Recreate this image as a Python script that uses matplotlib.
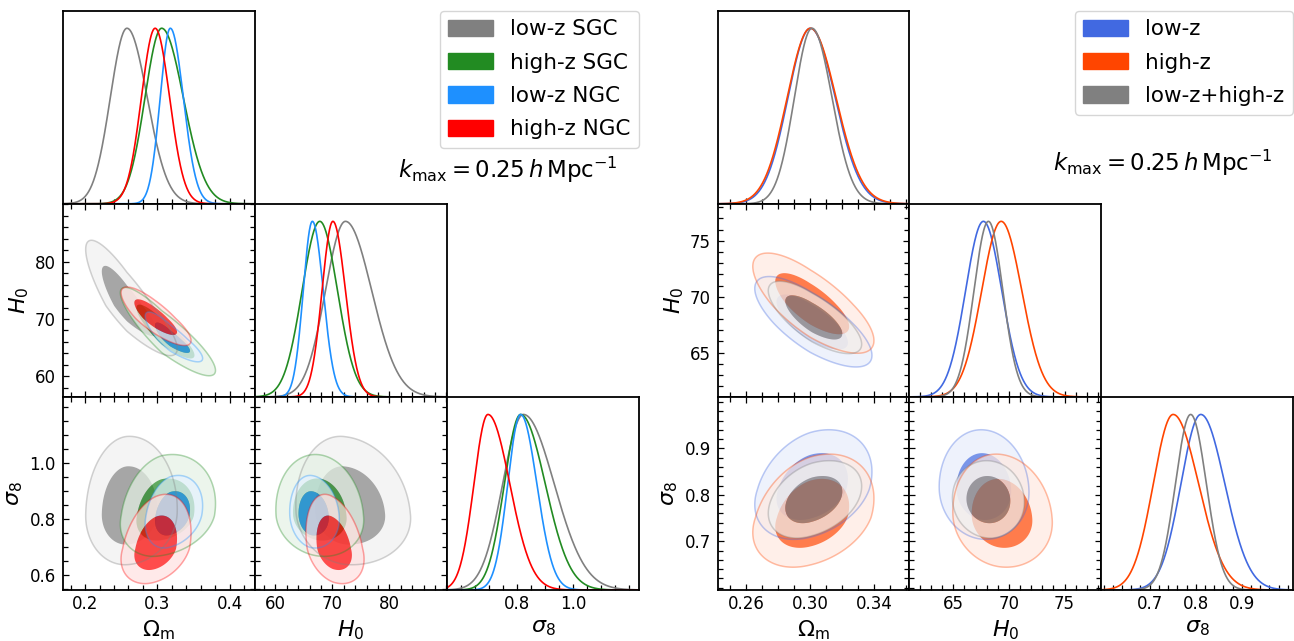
import numpy as np
import matplotlib
matplotlib.use("Agg")
import matplotlib.pyplot as plt
from matplotlib.ticker import FixedLocator, MultipleLocator, FixedFormatter, NullFormatter
from matplotlib.patches import Patch
from matplotlib.colors import to_rgb

W, H = 1294, 641
param_labels = [r'$\Omega_{\rm m}$', r'$H_0$', r'$\sigma_8$']

# ---------------- left triangle (SGC / NGC split) ----------------
L_names = ['low-z SGC', 'high-z SGC', 'low-z NGC', 'high-z NGC']
L_colors = ['grey', 'forestgreen', 'dodgerblue', 'red']
L_om_peak = [0.258, 0.306, 0.318, 0.297]
L_om_siglo = [0.023, 0.023, 0.014, 0.019]
L_om_sighi = [0.028, 0.030, 0.018, 0.020]
L_h0_peak = [72.3, 67.8, 66.5, 70.1]
L_h0_siglo = [3.5, 3.1, 1.6, 1.9]
L_h0_sighi = [4.6, 3.1, 1.9, 2.2]
L_s8_peak = [0.822, 0.812, 0.812, 0.695]
L_s8_siglo = [0.074, 0.058, 0.046, 0.050]
L_s8_sighi = [0.110, 0.088, 0.058, 0.078]
L_rho_om_h0 = [-0.86, -0.88, -0.85, -0.82]
L_rho_om_s8 = [0.05, 0.20, 0.25, 0.30]
L_rho_h0_s8 = [-0.10, -0.10, -0.10, -0.30]
L_lims = [(0.169, 0.435), (56.4, 90.1), (0.548, 1.236)]
L_xticks = [[0.2, 0.3, 0.4], [60, 70, 80], [0.8, 1.0]]
L_xticklabels = [['0.2', '0.3', '0.4'], ['60', '70', '80'], ['0.8', '1.0']]
L_yticks = [[], [60, 70, 80], [0.6, 0.8, 1.0]]
L_yticklabels = [[], ['60', '70', '80'], ['0.6', '0.8', '1.0']]
L_minor = [0.02, 2, 0.05]

# ---------------- right triangle (low-z / high-z) ----------------
R_names = ['low-z', 'high-z', 'low-z+high-z']
R_colors = ['royalblue', 'orangered', 'grey']
R_om_peak = [0.300, 0.300, 0.301]
R_om_siglo = [0.0140, 0.0145, 0.0110]
R_om_sighi = [0.0155, 0.0160, 0.0125]
R_h0_peak = [67.7, 69.3, 68.15]
R_h0_siglo = [1.60, 1.75, 1.30]
R_h0_sighi = [1.65, 1.85, 1.30]
R_s8_peak = [0.811, 0.751, 0.789]
R_s8_siglo = [0.043, 0.043, 0.033]
R_s8_sighi = [0.052, 0.055, 0.034]
R_rho_om_h0 = [-0.74, -0.74, -0.74]
R_rho_om_s8 = [0.30, 0.30, 0.35]
R_rho_h0_s8 = [-0.05, -0.10, -0.05]
R_lims = [(0.242, 0.362), (61.05, 78.3), (0.595, 1.011)]
R_xticks = [[0.26, 0.30, 0.34], [65, 70, 75], [0.7, 0.8, 0.9]]
R_xticklabels = [['0.26', '0.30', '0.34'], ['65', '70', '75'], ['0.7', '0.8', '0.9']]
R_yticks = [[], [65, 70, 75], [0.7, 0.8, 0.9]]
R_yticklabels = [[], ['65', '70', '75'], ['0.7', '0.8', '0.9']]
R_minor = [0.01, 1, 0.02]

kmax_text = r'$k_{\rm max} = 0.25\,h\,{\rm Mpc}^{-1}$'

fig = plt.figure(figsize=(W / 100, H / 100), dpi=100)

LEV68 = np.exp(-2.30 / 2)
LEV95 = np.exp(-6.18 / 2)


def std(x, mu, slo, shi):
    return np.where(x < mu, (x - mu) / slo, (x - mu) / shi)


def lighter(c, f=0.12):
    r = np.array(to_rgb(c))
    return tuple(f * r + (1 - f) * np.ones(3))


def style_axis(ax, kind, d_x, d_y, lims, xt, xtl, yt, ytl, minor, show_xlab, show_ylab):
    ax.set_xlim(*lims[d_x])
    ax.xaxis.set_major_locator(FixedLocator(xt[d_x]))
    ax.xaxis.set_minor_locator(MultipleLocator(minor[d_x]))
    if show_xlab:
        ax.xaxis.set_major_formatter(FixedFormatter(xtl[d_x]))
        ax.set_xlabel(param_labels[d_x], fontsize=16, labelpad=4)
    else:
        ax.xaxis.set_major_formatter(NullFormatter())
    if kind == '1d':
        ax.tick_params(axis='x', which='both', direction='in', top=False, bottom=True,
                       labelsize=12, width=0.9)
        ax.tick_params(axis='x', which='major', length=4.3)
        ax.tick_params(axis='x', which='minor', length=3.6)
        ax.set_yticks([])
        ax.set_ylim(0, 1.1)
    else:
        ax.set_ylim(*lims[d_y])
        ax.yaxis.set_major_locator(FixedLocator(yt[d_y]))
        ax.yaxis.set_minor_locator(MultipleLocator(minor[d_y]))
        if show_ylab:
            ax.yaxis.set_major_formatter(FixedFormatter(ytl[d_y]))
            ax.set_ylabel(param_labels[d_y], fontsize=16, labelpad=3)
        else:
            ax.yaxis.set_major_formatter(NullFormatter())
        ax.tick_params(axis='both', which='both', direction='in', top=True, bottom=True,
                       left=True, right=True, labelsize=12, width=0.9)
        ax.tick_params(axis='both', which='major', length=4.3)
        ax.tick_params(axis='both', which='minor', length=3.6)
        ax.tick_params(axis='y', which='major', pad=5)
    for s in ax.spines.values():
        s.set_linewidth(1.3)


def draw_triangle(x0, x1, ytop, ybot, names, colors, peaks, siglo, sighi, rhos,
                  lims, xt, xtl, yt, ytl, minor):
    n = len(colors)
    w = (x1 - x0) / 3.0
    h = (ybot - ytop) / 3.0
    for i in range(3):
        for j in range(i + 1):
            left = (x0 + j * w) / W
            bottom = 1 - (ytop + (i + 1) * h) / H
            ax = fig.add_axes([left, bottom, w / W, h / H])
            if i == j:
                xs = np.linspace(lims[i][0], lims[i][1], 600)
                for k in range(n):
                    u = std(xs, peaks[i][k], siglo[i][k], sighi[i][k])
                    ax.plot(xs, np.exp(-0.5 * u ** 2), color=colors[k], lw=1.2)
                style_axis(ax, '1d', i, i, lims, xt, xtl, yt, ytl, minor, i == 2, False)
            else:
                xs = np.linspace(lims[j][0], lims[j][1], 400)
                ys = np.linspace(lims[i][0], lims[i][1], 400)
                X, Y = np.meshgrid(xs, ys)
                rr = rhos[(j, i)]
                for k in range(n):
                    u = std(X, peaks[j][k], siglo[j][k], sighi[j][k])
                    v = std(Y, peaks[i][k], siglo[i][k], sighi[i][k])
                    r = rr[k]
                    Q = (u ** 2 - 2 * r * u * v + v ** 2) / (1 - r ** 2)
                    Z = np.exp(-0.5 * Q)
                    ax.contourf(X, Y, Z, levels=[LEV95, LEV68, 2.0],
                                colors=[lighter(colors[k]), colors[k]], alpha=0.7,
                                antialiased=True)
                    ax.contour(X, Y, Z, levels=[LEV95], colors=[colors[k]],
                               alpha=0.35, linewidths=1.1)
                style_axis(ax, '2d', j, i, lims, xt, xtl, yt, ytl, minor, i == 2, j == 0)
    handles = [Patch(facecolor=c, edgecolor=c) for c in colors]
    return handles


L_peaks = [L_om_peak, L_h0_peak, L_s8_peak]
L_siglo = [L_om_siglo, L_h0_siglo, L_s8_siglo]
L_sighi = [L_om_sighi, L_h0_sighi, L_s8_sighi]
L_rhos = {(0, 1): L_rho_om_h0, (0, 2): L_rho_om_s8, (1, 2): L_rho_h0_s8}
hL = draw_triangle(62.7, 639.0, 10.7, 590.0, L_names, L_colors, L_peaks, L_siglo, L_sighi,
                   L_rhos, L_lims, L_xticks, L_xticklabels, L_yticks, L_yticklabels, L_minor)

R_peaks = [R_om_peak, R_h0_peak, R_s8_peak]
R_siglo = [R_om_siglo, R_h0_siglo, R_s8_siglo]
R_sighi = [R_om_sighi, R_h0_sighi, R_s8_sighi]
R_rhos = {(0, 1): R_rho_om_h0, (0, 2): R_rho_om_s8, (1, 2): R_rho_h0_s8}
hR = draw_triangle(717.7, 1293.0, 10.7, 590.0, R_names, R_colors, R_peaks, R_siglo, R_sighi,
                   R_rhos, R_lims, R_xticks, R_xticklabels, R_yticks, R_yticklabels, R_minor)

leg_kw = dict(loc='upper right', fontsize=15.5, handlelength=2.07, handleheight=0.8,
              labelspacing=0.62, handletextpad=0.8, borderaxespad=0.0, frameon=True)
fig.legend(hL, L_names, bbox_to_anchor=(639.0 / W, 1 - 10.7 / H), **leg_kw)
fig.legend(hR, R_names, bbox_to_anchor=(1293.0 / W, 1 - 10.7 / H), **leg_kw)

fig.text(398 / W, 1 - 170 / H, kmax_text, fontsize=16.5, ha='left', va='center')
fig.text(1053 / W, 1 - 163 / H, kmax_text, fontsize=16.5, ha='left', va='center')

fig.savefig('out.png', dpi=100)
